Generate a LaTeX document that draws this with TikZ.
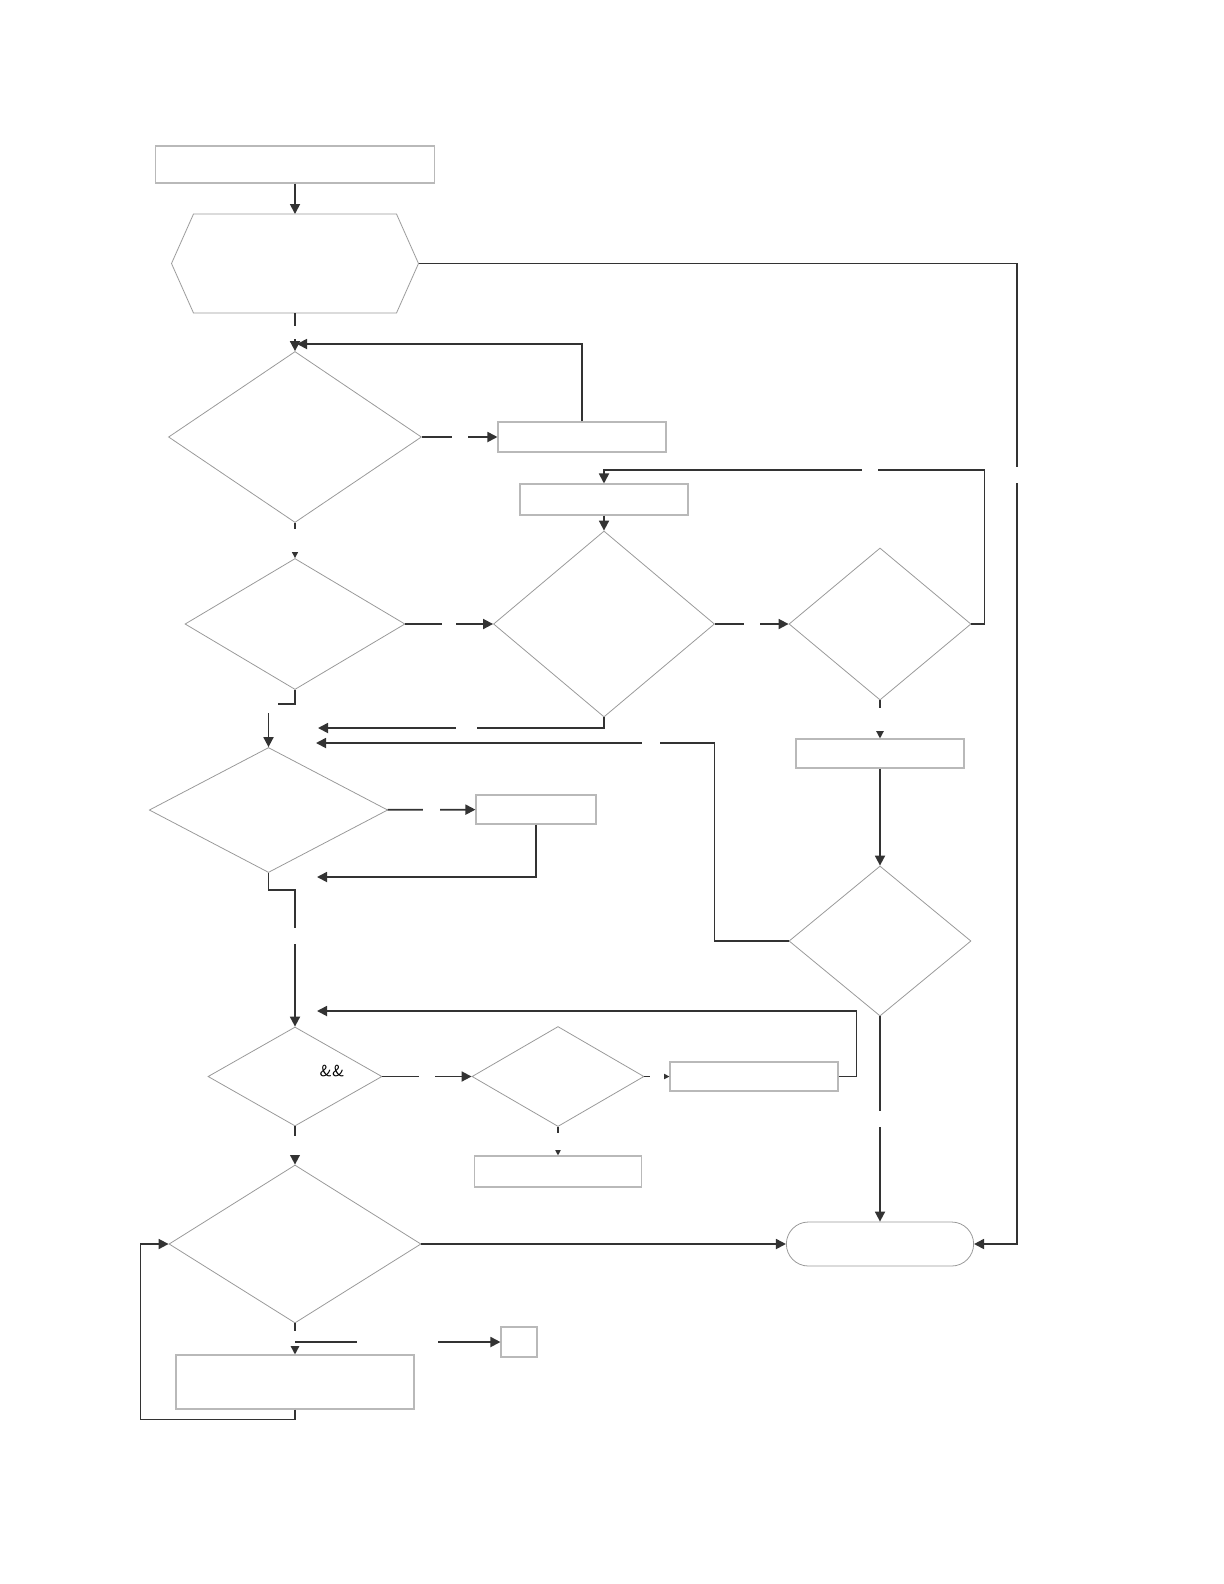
\documentclass[tikz,border=0pt]{standalone}
\usepackage{tikz}
\usetikzlibrary{shapes.geometric, shapes.misc, arrows.meta, calc}

\begin{document}
\begin{tikzpicture}[
    box/.style={rectangle, draw=gray!55, line width=0.6pt, inner sep=0pt},
    cond/.style={diamond, draw=gray!80, line width=0.45pt, inner sep=0pt},
    outline/.style={draw=gray!80, line width=0.45pt},
    arrow/.style={-{Triangle[length=2mm, width=2mm]}, line width=1pt, draw=black!80},
    gap/.style={fill=white, inner sep=0pt, minimum size=#1},
    gap/.default=0.32cm
]
    \useasboundingbox (0,0) rectangle (24.48,-31.68);

    % boxes
    \node[box, minimum width=5.58cm, minimum height=0.74cm] (start) at (5.9,-3.29) {};
    \node[rectangle, inner sep=0pt, outer sep=0pt, minimum width=4.94cm, minimum height=1.98cm] (init) at (5.9,-5.27) {};
    \draw[outline] (init.west) -- ($(init.north west)+(0.44,0)$) -- ($(init.north east)+(-0.44,0)$)
        -- (init.east) -- ($(init.south east)+(-0.44,0)$) -- ($(init.south west)+(0.44,0)$) -- cycle;
    \node[box, minimum width=3.36cm, minimum height=0.6cm] (r1) at (11.64,-8.74) {};
    \node[box, minimum width=3.36cm, minimum height=0.62cm] (r2) at (12.08,-9.99) {};
    \node[box, minimum width=3.36cm, minimum height=0.58cm] (r3) at (17.6,-15.07) {};
    \node[box, minimum width=2.4cm, minimum height=0.58cm] (r4) at (10.72,-16.19) {};
    \node[box, minimum width=3.36cm, minimum height=0.58cm] (r5) at (15.08,-21.53) {};
    \node[box, minimum width=3.34cm, minimum height=0.62cm] (r6) at (11.16,-23.43) {};
    \node[box, minimum width=4.76cm, minimum height=1.08cm] (r7) at (5.9,-27.64) {};
    \node[box, minimum width=0.72cm, minimum height=0.6cm] (mini) at (10.38,-26.84) {};
    \node[rounded rectangle, outline, minimum width=3.98cm, minimum height=0.88cm] (term) at (17.6,-24.88) {};

    % decisions
    \node[cond, minimum width=5.06cm, minimum height=3.42cm] (d1) at (5.9,-8.74) {};
    \node[cond, minimum width=4.4cm, minimum height=2.62cm] (d2) at (5.9,-12.48) {};
    \node[cond, minimum width=4.42cm, minimum height=3.72cm] (d3) at (12.08,-12.48) {};
    \node[cond, minimum width=3.64cm, minimum height=3.04cm] (d4) at (17.6,-12.48) {};
    \node[cond, minimum width=4.77cm, minimum height=2.5cm] (d5) at (5.37,-16.2) {};
    \node[cond, minimum width=3.64cm, minimum height=3.0cm] (d6) at (17.6,-18.82) {};
    \node[cond, minimum width=3.48cm, minimum height=1.98cm] (d7) at (5.9,-21.53) {};
    \node[cond, minimum width=3.44cm, minimum height=2.0cm] (d8) at (11.16,-21.53) {};
    \node[cond, minimum width=5.04cm, minimum height=3.16cm] (d9) at (5.9,-24.88) {};
    \node[font=\sffamily\fontsize{9}{10}\selectfont] (amp) at (6.64,-21.42) {\&\&};

    % free ends of the return arrows
    \coordinate (ret0) at (5.94,-6.88);
    \coordinate (ret1) at (6.36,-14.56);
    \coordinate (ret2) at (6.32,-14.86);
    \coordinate (ret3) at (6.34,-17.54);
    \coordinate (ret4) at (6.34,-20.22);

    \draw[arrow] (start) -- (init);
    \draw[arrow] (init) -- node[gap=0.26cm] {} (d1);
    \draw[arrow] (r1.north) |- (ret0);
    \draw[arrow] (d1) -- node[gap] {} (r1);
    \draw[arrow] (d1) -- node[gap=0.46cm] {} (d2);
    \draw[arrow] (d2) -- node[gap=0.28cm] {} (d3);
    \draw[arrow] (d3) -- node[gap] {} (d4);
    \draw[arrow] (d4.east) -- ++(0.26,0) -- ++(0,3.08) -| node[gap, pos=0.15] {} (r2.north);
    \draw[arrow] (r2) -- (d3);
    \draw[arrow] (d3.south) |- node[gap=0.42cm, pos=0.74] {} (ret1);
    \draw[arrow] (d4) -- node[gap=0.46cm] {} (r3);
    \draw[arrow] (r3) -- (d6);
    \draw[arrow] (d6.west) -- ++(-1.48,0) |- node[gap=0.36cm, pos=0.58] {} (ret2);
    \draw[arrow] (d2.south) -- ++(0,-0.28) -| node[gap=0.38cm, pos=0.5] {} (d5.north);
    \draw[arrow] (d5) -- node[gap=0.34cm] {} (r4);
    \draw[arrow] (r4.south) |- (ret3);
    \draw[arrow] (d5.south) -- ++(0,-0.34) -| node[gap, pos=0.667] {} (d7.north);
    \draw[arrow] (d7) -- node[gap] {} (d8);
    \draw[arrow] (d8) -- node[gap=0.28cm] {} (r5);
    \draw[arrow] (r5.east) -- ++(0.36,0) |- (ret4);
    \draw[arrow] (d8) -- node[gap=0.34cm] {} (r6);
    \draw[arrow] (d7) -- node[gap=0.38cm] {} (d9);
    \draw[arrow] (d9) -- (term);
    \draw[arrow] (d6) -- node[gap] {} (term);
    \draw[arrow] (init.east) -| node[gap, pos=0.608] {} (20.34,-24.88) -- (term.east);
    \draw[arrow] (r7.south) -- ++(0,-0.2) -| ($(d9.west)+(-0.56,0)$) -- (d9.west);
    \draw[arrow] (d9) -- node[gap=0.3cm] {} (r7);
    \coordinate (fork) at (d9.south |- mini.west);
    \draw[arrow] (fork) -- node[gap=1.62cm, minimum height=0.1cm] {} (mini);
\end{tikzpicture}
\end{document}
